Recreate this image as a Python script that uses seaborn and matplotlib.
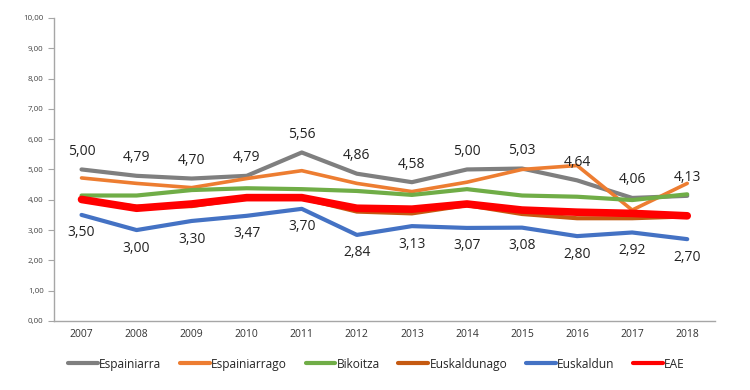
import pandas as pd
import seaborn as sns
import matplotlib.pyplot as plt
from matplotlib.ticker import FixedLocator, FuncFormatter

years = [2007, 2008, 2009, 2010, 2011, 2012, 2013, 2014, 2015, 2016, 2017, 2018]
espainiarra = [5.00, 4.79, 4.70, 4.79, 5.56, 4.86, 4.58, 5.00, 5.03, 4.64, 4.06, 4.13]
espainiarrago = [4.72, 4.54, 4.40, 4.70, 4.96, 4.54, 4.27, 4.58, 5.00, 5.13, 3.66, 4.54]
bikoitza = [4.14, 4.14, 4.32, 4.38, 4.35, 4.29, 4.16, 4.35, 4.14, 4.10, 3.99, 4.18]
euskaldunago = [4.00, 3.77, 3.79, 4.05, 4.05, 3.61, 3.55, 3.82, 3.53, 3.39, 3.39, 3.45]
euskaldun = [3.50, 3.00, 3.30, 3.47, 3.70, 2.84, 3.13, 3.07, 3.08, 2.80, 2.92, 2.70]
eae = [4.01, 3.72, 3.86, 4.07, 4.07, 3.72, 3.69, 3.86, 3.66, 3.59, 3.55, 3.47]

series = ["Espainiarra", "Espainiarrago", "Bikoitza", "Euskaldunago", "Euskaldun", "EAE"]
colors = ["#7F7F7F", "#ED7D31", "#70AD47", "#C55A11", "#4472C4", "#FF0000"]
widths = [3, 2.6, 3, 3, 3, 5.5]

df = pd.concat([
    pd.DataFrame({"year": years, "value": vals, "group": name})
    for name, vals in zip(series, [espainiarra, espainiarrago, bikoitza,
                                   euskaldunago, euskaldun, eae])
])

sns.set_style("white")
plt.rcParams["font.family"] = ["Open Sans", "DejaVu Sans"]

fig = plt.figure(figsize=(7.5, 3.9), dpi=100)
ax = fig.add_axes([0.072, 0.177, 0.881, 0.777])

for name, col, lw in zip(series, colors, widths):
    sns.lineplot(data=df[df.group == name], x="year", y="value", color=col,
                 linewidth=lw, label=name, ax=ax, solid_capstyle="round")

fmt = lambda v: f"{v:.2f}".replace(".", ",")
for x, v in zip(years, espainiarra):
    ax.annotate(fmt(v), (x, v), xytext=(0, 13), textcoords="offset points",
                ha="center", va="center", fontsize=10, color="#222222")
for x, v in zip(years, euskaldun):
    ax.annotate(fmt(v), (x, v), xytext=(0, -13), textcoords="offset points",
                ha="center", va="center", fontsize=10, color="#222222")

ax.set_xlim(2006.5, 2018.5)
ax.set_ylim(0, 10)
ax.set_xticks(years)
ax.set_xticklabels([str(y) for y in years], fontsize=7.5, color="#333333")
ax.xaxis.set_minor_locator(FixedLocator([y + 0.5 for y in [2006] + years]))
ax.tick_params(axis="x", which="major", length=0, pad=6)
ax.tick_params(axis="x", which="minor", length=4, color="#A6A6A6", direction="out")
ax.set_yticks(range(0, 11))
ax.yaxis.set_major_formatter(FuncFormatter(lambda v, p: fmt(v)))
ax.tick_params(axis="y", labelsize=5.8, labelcolor="#444444", length=4,
               color="#A6A6A6", direction="out", left=True)
ax.set_xlabel("")
ax.set_ylabel("")
for s in ["top", "right"]:
    ax.spines[s].set_visible(False)
for s in ["left", "bottom"]:
    ax.spines[s].set_color("#A6A6A6")
    ax.spines[s].set_linewidth(1)

leg = ax.legend(loc="center", bbox_to_anchor=(0.488, -0.142), ncol=6, frameon=False,
                fontsize=8.6, handlelength=2.5, handletextpad=0.1, columnspacing=1.55)
for h in leg.get_lines():
    h.set_linewidth(3)

fig.savefig("out.png", dpi=100)
